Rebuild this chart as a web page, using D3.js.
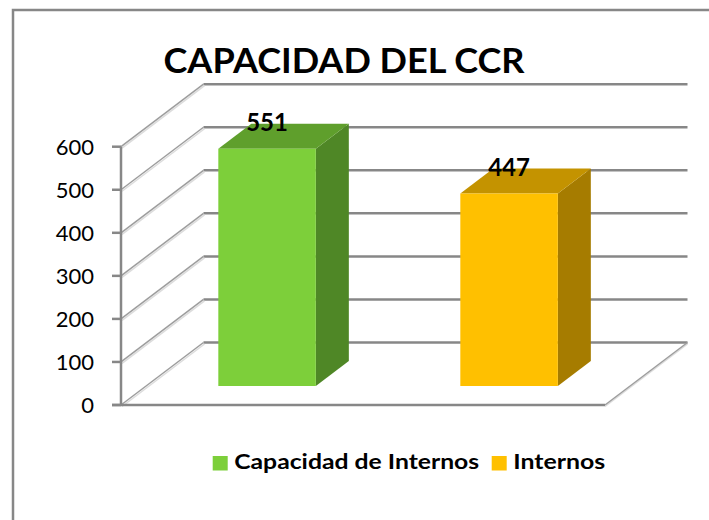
<!DOCTYPE html>
<html>
<head>
<meta charset="utf-8">
<script src="https://cdn.jsdelivr.net/npm/d3@7"></script>
<style>
  body { margin: 0; background: #fff; }
  text { font-family: Lato, "Open Sans", sans-serif; fill: #000; }
</style>
</head>
<body>
<svg width="709" height="520"></svg>
<script>
// data
const categories = ['Capacidad de Internos', 'Internos'];
const values = [551, 447];
const yTicks = [0, 100, 200, 300, 400, 500, 600];
const title = 'CAPACIDAD DEL CCR';

// shading per series: front, top, side
const shades = [
  {front: '#7dcf3a', top: '#5f9f2c', side: '#4f8726'},
  {front: '#ffc000', top: '#c49300', side: '#a67c00'}
];

const svg = d3.select('svg');

// outer frame (runs off the picture at right and bottom)
svg.append('rect')
  .attr('x', 13).attr('y', 10)
  .attr('width', 740).attr('height', 560)
  .attr('fill', 'none')
  .attr('stroke', '#878787')
  .attr('stroke-width', 2.5);

// 3D geometry: front plane, and depth offset of the full box
const DX = 82.5, DY = -62.5;
const bar0 = 0.304, bar1 = 0.704;   // bar depth range (fraction of box depth)

const x = d3.scaleBand()
  .domain(categories)
  .range([121, 605]);

const y = d3.scaleLinear()
  .domain([0, 600])
  .range([405, 146.7]);

const P = (px, py, t) => [px + t * DX, py + t * DY];
const line = d3.line();

// back wall gridlines
const grid = svg.append('g');
grid.selectAll('line')
  .data(yTicks)
  .enter().append('line')
  .attr('x1', 121 + DX).attr('x2', 605 + DX)
  .attr('y1', d => y(d) + DY).attr('y2', d => y(d) + DY)
  .attr('stroke', '#878787')
  .attr('stroke-width', 2.5);

// side wall diagonals (embossed look)
const side = svg.append('g');
side.selectAll('.hl')
  .data(yTicks)
  .enter().append('line')
  .attr('class', 'hl')
  .attr('x1', 122).attr('y1', d => y(d) + 1.5)
  .attr('x2', 121 + DX + 1).attr('y2', d => y(d) + DY + 1.5)
  .attr('stroke', '#dcdcdc')
  .attr('stroke-width', 1.5);
side.selectAll('.dl')
  .data(yTicks)
  .enter().append('line')
  .attr('class', 'dl')
  .attr('x1', 121).attr('y1', d => y(d))
  .attr('x2', 121 + DX).attr('y2', d => y(d) + DY)
  .attr('stroke', '#9d9d9d')
  .attr('stroke-width', 1.5);

// floor right edge
svg.append('line')
  .attr('x1', 605).attr('y1', y(0) + 1.5)
  .attr('x2', 605 + DX).attr('y2', y(0) + DY + 1.5)
  .attr('stroke', '#dcdcdc').attr('stroke-width', 1.5);
svg.append('line')
  .attr('x1', 605).attr('y1', y(0))
  .attr('x2', 605 + DX).attr('y2', y(0) + DY)
  .attr('stroke', '#9d9d9d').attr('stroke-width', 1.5);

// bars
const bw = x.bandwidth() * 0.403;
const bars = svg.selectAll('.bar')
  .data(values.map((v, i) => ({v, i, c: categories[i]})))
  .enter().append('g')
  .attr('class', 'bar');

bars.each(function(d) {
  const g = d3.select(this);
  const cx = x(d.c) + x.bandwidth() / 2;
  const xl = cx - bw / 2, xr = cx + bw / 2;
  const yt = y(d.v), yb = y(0);
  const s = shades[d.i];
  // side
  g.append('path')
    .attr('d', line([P(xr, yt, bar0), P(xr, yt, bar1), P(xr, yb, bar1), P(xr, yb, bar0)]) + 'Z')
    .attr('fill', s.side);
  // top
  g.append('path')
    .attr('d', line([P(xl, yt, bar0), P(xl, yt, bar1), P(xr, yt, bar1), P(xr, yt, bar0)]) + 'Z')
    .attr('fill', s.top);
  // front
  g.append('path')
    .attr('d', line([P(xl, yt, bar0), P(xr, yt, bar0), P(xr, yb, bar0), P(xl, yb, bar0)]) + 'Z')
    .attr('fill', s.front);
  // value label
  const lp = P(cx, yt, bar0);
  g.append('text')
    .attr('x', lp[0])
    .attr('y', lp[1] - 17.5)
    .attr('text-anchor', 'middle')
    .attr('font-size', 24)
    .attr('font-weight', 'bold')
    .text(d3.format('d')(d.v));
});

// front y axis
const axis = svg.append('g');
axis.append('line')
  .attr('x1', 121).attr('x2', 121)
  .attr('y1', y(600)).attr('y2', y(0) + 1)
  .attr('stroke', '#878787').attr('stroke-width', 2.5);
axis.append('line')
  .attr('x1', 112).attr('x2', 605)
  .attr('y1', y(0)).attr('y2', y(0))
  .attr('stroke', '#878787').attr('stroke-width', 2.5);
axis.selectAll('.tick')
  .data(yTicks)
  .enter().append('line')
  .attr('class', 'tick')
  .attr('x1', 112).attr('x2', 121)
  .attr('y1', d => y(d)).attr('y2', d => y(d))
  .attr('stroke', '#878787').attr('stroke-width', 2.5);
axis.selectAll('.lbl')
  .data(yTicks)
  .enter().append('text')
  .attr('class', 'lbl')
  .attr('x', 94)
  .attr('y', d => y(d))
  .attr('dy', '0.36em')
  .attr('text-anchor', 'end')
  .attr('font-size', 22)
  .attr('font-weight', 400)
  .text(d => d);

// title
svg.append('text')
  .attr('x', 163.5)
  .attr('y', 73.3)
  .attr('font-size', 35)
  .attr('font-weight', 'bold')
  .attr('textLength', 361)
  .attr('lengthAdjust', 'spacingAndGlyphs')
  .text(title);

// legend
const legendX = [212.7, 491.7];
const legendW = [245, 92];
const legend = svg.selectAll('.legend')
  .data(categories)
  .enter().append('g')
  .attr('class', 'legend')
  .attr('transform', (d, i) => `translate(${legendX[i]}, 456)`);
legend.append('rect')
  .attr('width', 15).attr('height', 14.5)
  .attr('fill', (d, i) => shades[i].front);
legend.append('text')
  .attr('x', 21.5)
  .attr('y', 13.4)
  .attr('font-size', 21.5)
  .attr('font-weight', 'bold')
  .attr('textLength', (d, i) => legendW[i])
  .attr('lengthAdjust', 'spacingAndGlyphs')
  .text(d => d);
</script>
</body>
</html>
